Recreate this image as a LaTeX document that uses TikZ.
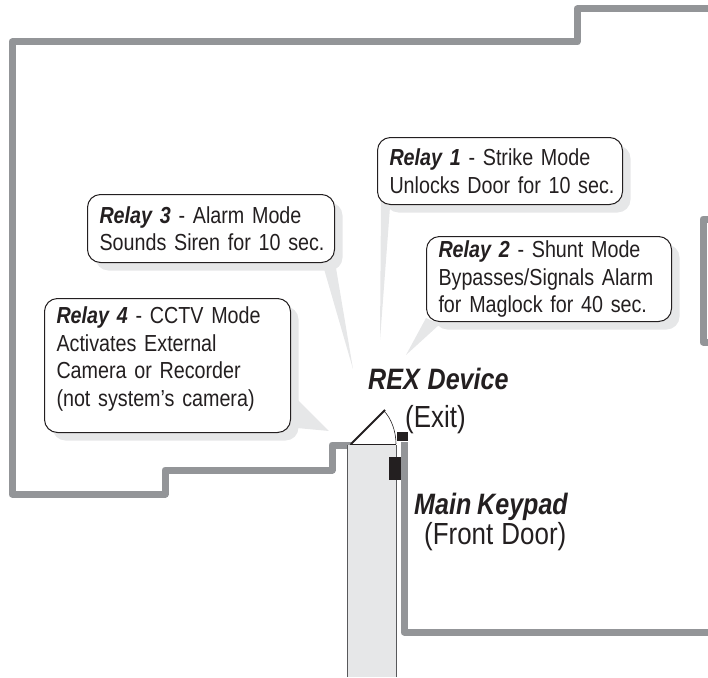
\documentclass[tikz,border=0pt]{standalone}
\usepackage{fontspec}
\setmainfont[FakeStretch=0.85,WordSpace=0.85]{Liberation Sans}
\usetikzlibrary{shadows}
\definecolor{wallgray}{HTML}{939598}
\definecolor{shadegray}{HTML}{E6E7E8}
\definecolor{inkblack}{HTML}{231F20}
\newcommand{\rel}[1]{\textbf{\textit{#1}}}
\tikzset{
  wall/.style={draw=wallgray,line width=7pt,line join=round,line cap=butt},
  ray/.style={fill=shadegray,draw=none},
  callout/.style={draw=inkblack,line width=1pt,fill=white,rounded corners=13pt,anchor=north west,
    align=left,inner xsep=12pt,inner ysep=0pt,font=\fontsize{23.2}{27.5}\selectfont,text=inkblack,
    copy shadow={shadow xshift=8pt,shadow yshift=-8pt,fill=shadegray,draw=none}},
  bigname/.style={anchor=base west,inner sep=0pt,font=\fontsize{29.5}{32}\selectfont\bfseries\itshape,text=inkblack},
  bigsub/.style={anchor=base west,inner sep=0pt,font=\fontsize{30.5}{32}\selectfont,text=inkblack},
  hardware/.style={fill=inkblack,draw=none}
}
\begin{document}
\begin{tikzpicture}[x=1pt,y=-1pt]
\useasboundingbox (0,0) rectangle (708,677);
% walls
\draw[wall] (708,9) -- (577,9) -- (577,42) -- (12,42) -- (12,494) -- (165,494) -- (165,470) -- (332,470) -- (332,445) -- (351,445);
\draw[wall] (404,442) -- (404,632) -- (708,632);
\draw[wall] (708,219) -- (703,219) -- (703,342) -- (708,342);
% door
\fill[shadegray] (347,445) rectangle (396,677);
\draw[draw=wallgray!60!black,line width=1pt] (347,445) -- (347,677);
\draw[draw=wallgray!60!black,line width=1pt] (396,445) -- (396,677);
\draw[draw=inkblack,line width=0.8pt] (350,444) -- (396,444);
\draw[draw=inkblack,line width=2pt] (351,444) -- (385,410);
\draw[draw=inkblack,line width=0.6pt] (384,411) .. controls (391,418) and (396,431) .. (396,444);
\fill[hardware] (397,432) rectangle (408,441);
\fill[hardware] (389,457) rectangle (401,480);
% pointers
\fill[ray] (381,200) -- (390,207) -- (380,340) -- cycle;
\fill[ray] (426,318) -- (440,324) -- (406,355) -- cycle;
\fill[ray] (322,262) -- (335,262) -- (353,369) -- cycle;
\fill[ray] (298,400) -- (297,428) -- (329,431) -- cycle;
% callouts
\node[callout,minimum width=245pt,minimum height=67pt,text width=221pt] (relayone) at (377,137)
  {\mbox{\rel{Relay 1} - Strike Mode}\\\mbox{Unlocks Door for 10 sec.}};
\node[callout,minimum width=245pt,minimum height=85pt,text width=221pt] (relaytwo) at (426,236)
  {\mbox{\rel{Relay 2} - Shunt Mode}\\\mbox{Bypasses/Signals Alarm}\\\mbox{for Maglock for 40 sec.}};
\node[callout,minimum width=247pt,minimum height=68pt,text width=223pt] (relaythree) at (87,194)
  {\mbox{\rel{Relay 3} - Alarm Mode}\\\mbox{Sounds Siren for 10 sec.}};
\node[callout,minimum width=246pt,minimum height=134pt,text width=222pt] (relayfour) at (44,298)
  {\mbox{\rel{Relay 4} - CCTV Mode}\\\mbox{Activates External}\\\mbox{Camera or Recorder}\\\mbox{(not system’s camera)}\rule[-18pt]{0pt}{18pt}};
% labels
\node[bigname] (rex) at (368,389) {REX\hspace{2pt} Device};
\node[bigsub] (exit) at (405,427) {(Exit)};
\node[bigname] (keypad) at (414,514) {Main Keypad};
\node[bigsub] (front) at (424,544) {(Front\hspace{2pt} Door)};
\end{tikzpicture}
\end{document}
